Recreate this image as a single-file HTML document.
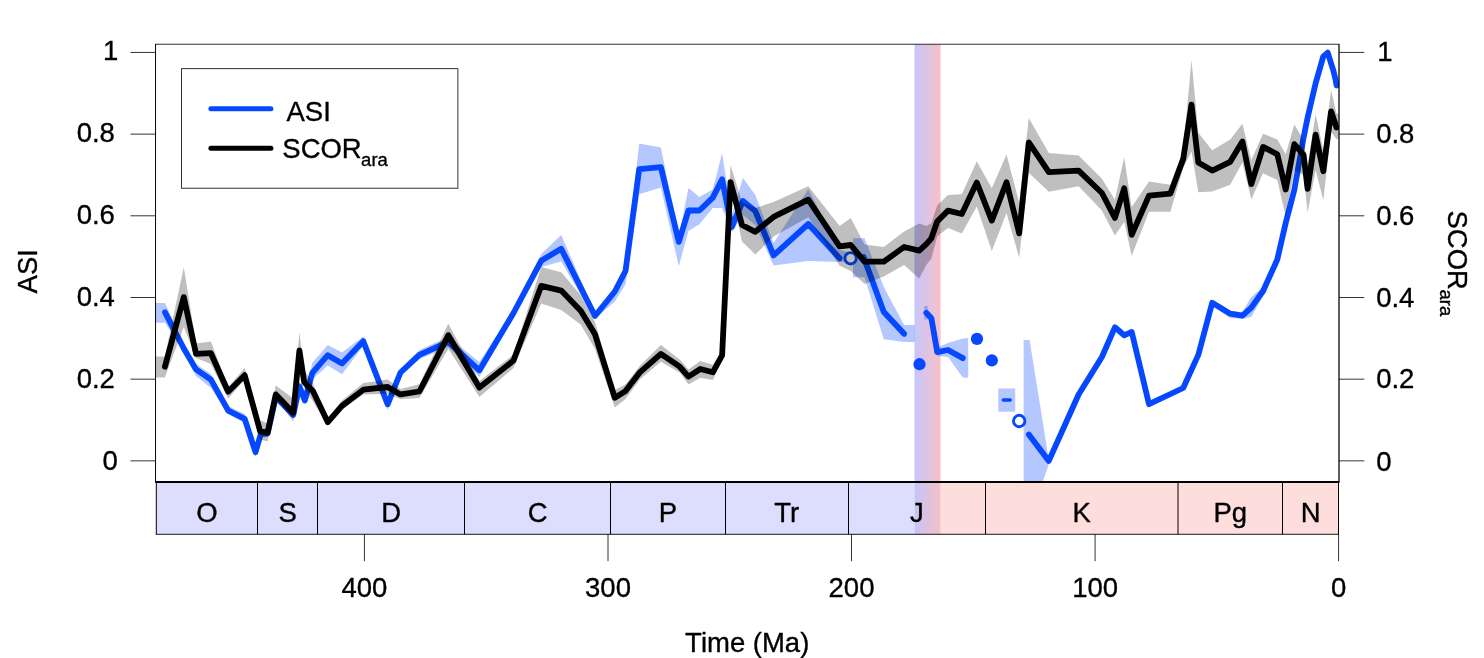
<!DOCTYPE html>
<html lang="en"><head><meta charset="utf-8"><title>ASI and SCORara through time</title>
<style>html,body{margin:0;padding:0;background:#fff}body{width:1484px;height:658px;overflow:hidden}svg{display:block}text{font-family:"Liberation Sans",sans-serif;font-size:27.5px;fill:#000;stroke:#000;stroke-width:0.35px;stroke-linejoin:round}.sub{font-size:18.5px}</style>
</head><body>
<svg width="1484" height="658" viewBox="0 0 1484 658">
<defs><clipPath id="pc"><rect x="155.55" y="44.2" width="1183.45" height="437.3"/></clipPath>
<linearGradient id="mj" x1="0" x2="1" y1="0" y2="0"><stop offset="0" stop-color="#c6c6fb"/><stop offset="1" stop-color="#f9c0ca"/></linearGradient>
<linearGradient id="mj2" x1="0" x2="1" y1="0" y2="0"><stop offset="0" stop-color="#c4c4f8"/><stop offset="1" stop-color="#f6c0c8"/></linearGradient>
</defs>
<rect width="1484" height="658" fill="#fff"/>
<rect x="914.5" y="44.2" width="26.1" height="437.3" fill="url(#mj)"/>
<g clip-path="url(#pc)">
<polygon points="156.0,303.1 165.0,303.1 183.8,344.0 196.0,364.0 210.9,374.0 228.2,406.0 244.7,414.0 255.5,447.0 260.8,431.0 267.6,431.0 275.8,394.0 293.3,412.0 299.4,382.0 304.8,396.0 312.3,362.7 327.8,345.0 342.0,352.5 363.3,336.5 387.6,400.0 400.5,369.0 419.4,350.0 448.3,337.0 479.4,362.0 513.5,309.0 541.2,254.0 561.2,235.0 595.0,313.0 614.8,288.0 625.5,266.0 639.2,143.5 660.9,147.6 678.8,236.0 688.5,188.1 699.4,197.0 712.8,189.5 722.1,153.0 731.7,215.0 742.9,178.0 755.3,195.0 773.6,243.0 808.3,189.0 839.6,250.0 848.5,252.0 853.0,252.0 853.0,262.0 848.5,262.0 839.6,262.0 808.3,261.0 773.6,265.6 755.3,225.0 742.9,215.0 731.7,232.5 722.1,208.0 712.8,208.0 699.4,224.3 688.5,231.1 678.8,266.3 660.9,187.5 639.2,194.2 625.5,284.5 614.8,301.5 595.0,319.0 561.2,261.5 541.2,267.0 513.5,317.0 479.4,377.0 448.3,347.0 419.4,359.0 400.5,376.0 387.6,410.0 363.3,346.0 342.0,374.2 327.8,365.4 312.3,379.6 304.8,404.0 299.4,390.0 293.3,418.0 275.8,400.0 267.6,436.0 260.8,437.0 255.5,457.0 244.7,423.0 228.2,414.0 210.9,388.0 196.0,376.0 183.8,352.0 165.0,322.8 156.0,322.8" fill="rgba(5,72,255,0.30)"/>
<polygon points="853.0,238.3 864.5,238.3 883.8,287.0 904.1,325.0 914.8,325.0 914.8,342.0 904.1,342.0 883.8,339.2 864.5,277.2 853.0,277.2" fill="rgba(5,72,255,0.30)"/>
<polygon points="924.2,306.0 927.6,306.0 927.6,319.6 924.2,319.6" fill="rgba(5,72,255,0.30)"/>
<polygon points="937.2,347.5 948.0,343.0 962.8,338.5 968.2,338.0 968.2,377.7 962.8,377.5 948.0,357.0 937.2,356.0" fill="rgba(5,72,255,0.30)"/>
<polygon points="998.3,388.4 1015.2,388.4 1015.2,411.8 998.3,411.8" fill="rgba(5,72,255,0.30)"/>
<polygon points="1023.6,340.1 1029.6,340.1 1049.2,462.0 1049.2,463.0 1029.6,520.0 1023.6,520.0" fill="rgba(5,72,255,0.30)"/>
<polygon points="1212.2,301.0 1230.2,311.0 1242.4,312.0 1251.3,297.0 1263.1,287.0 1277.4,257.0 1277.4,262.0 1263.1,296.0 1251.3,317.0 1242.4,319.0 1230.2,318.0 1212.2,305.0" fill="rgba(5,72,255,0.30)"/>
<polyline points="165.0,312.4 183.8,348.5 196.0,369.4 210.9,379.6 228.2,410.7 244.7,418.8 255.5,452.2 260.8,434.0 267.6,433.5 275.8,397.0 293.3,415.0 299.4,386.3 304.8,400.5 312.3,372.8 327.8,355.2 342.0,363.5 363.3,341.2 387.6,404.3 400.5,372.5 419.4,354.8 448.3,341.9 479.4,370.3 513.5,313.0 541.2,260.8 561.2,248.7 595.0,316.0 614.8,291.5 625.5,271.0 639.2,169.2 660.9,167.2 678.8,241.9 688.5,210.3 699.4,210.5 712.8,197.6 722.1,179.4 731.7,227.0 742.9,201.0 755.3,211.1 773.6,255.4 808.3,224.0 839.6,258.3" fill="none" stroke="#0548ff" stroke-width="5.8" stroke-linecap="round" stroke-linejoin="round"/>
<polyline points="863.6,257.0 883.8,312.0 904.1,333.8" fill="none" stroke="#0548ff" stroke-width="5.8" stroke-linecap="round" stroke-linejoin="round"/>
<polyline points="926.3,312.8 931.4,318.3 937.2,352.1 948.0,350.0 962.8,358.1" fill="none" stroke="#0548ff" stroke-width="5.8" stroke-linecap="round" stroke-linejoin="round"/>
<polyline points="1028.8,434.5 1048.8,460.9 1078.6,394.5 1101.9,357.0 1114.9,327.3 1124.2,335.3 1131.7,331.9 1149.0,404.2 1183.2,388.0 1198.3,354.9 1212.2,302.8 1230.2,313.7 1242.4,315.7 1251.3,307.6 1263.1,291.0 1277.3,259.5 1285.7,223.0 1294.3,190.0 1303.6,137.4 1307.6,117.7 1315.6,83.4 1323.3,56.4 1327.7,52.6 1331.1,63.5 1333.5,71.0 1335.5,79.5 1336.6,85.5" fill="none" stroke="#0548ff" stroke-width="5.8" stroke-linecap="round" stroke-linejoin="round"/>
<line x1="1003.3" y1="400.05" x2="1010.2" y2="400.05" stroke="#0548ff" stroke-width="3.5" stroke-linecap="round"/>
<circle cx="919.5" cy="364.2" r="6.1" fill="#0548ff"/>
<circle cx="977" cy="338.9" r="6.1" fill="#0548ff"/>
<circle cx="991.8" cy="360.4" r="6.1" fill="#0548ff"/>
<circle cx="850.6" cy="258.3" r="5.7" fill="#fff" stroke="#0548ff" stroke-width="2.9"/>
<circle cx="1019.2" cy="421" r="5.7" fill="#fff" stroke="#0548ff" stroke-width="2.9"/>
<polygon points="156.0,356.6 164.9,356.6 183.8,266.9 196.0,343.5 210.9,341.4 228.2,387.0 244.7,368.0 260.2,420.6 267.6,423.0 275.8,385.6 293.3,398.5 299.4,332.5 304.2,370.0 312.9,383.6 327.8,418.0 342.0,400.6 363.3,383.0 387.6,379.6 400.5,389.0 419.4,384.3 448.3,323.7 479.4,381.0 513.5,354.5 541.2,267.0 561.2,272.3 580.9,295.3 595.0,322.0 614.8,390.0 625.5,384.6 640.1,365.6 660.9,345.0 679.7,359.5 688.5,369.4 700.3,361.0 712.8,364.8 722.1,350.0 730.5,165.0 742.0,202.0 755.3,208.0 773.6,202.0 808.3,186.2 839.6,226.0 850.8,218.0 864.5,244.4 883.8,247.0 904.1,231.5 919.2,223.4 926.3,226.0 931.4,223.2 937.2,205.5 948.0,195.0 961.8,194.3 976.8,161.2 991.8,188.3 1006.5,154.5 1019.2,202.5 1028.8,118.0 1048.8,153.1 1078.6,155.4 1101.9,178.8 1114.9,199.8 1124.2,157.2 1131.7,207.0 1149.0,181.5 1170.4,184.8 1183.2,150.0 1191.5,60.1 1198.3,132.7 1212.2,150.3 1230.2,139.5 1242.4,123.7 1251.3,160.0 1263.1,133.8 1277.3,139.5 1285.7,154.3 1294.3,124.4 1303.6,140.0 1307.6,165.0 1315.6,114.2 1323.3,150.0 1331.1,89.9 1336.5,113.7 1338.6,113.7 1338.6,139.0 1336.5,139.0 1331.1,132.0 1323.3,200.3 1315.6,170.0 1307.6,212.5 1303.6,175.0 1294.3,170.6 1285.7,216.5 1277.3,180.0 1263.1,173.3 1251.3,199.6 1242.4,162.5 1230.2,184.8 1212.2,191.5 1198.3,192.2 1191.5,151.6 1183.2,168.0 1170.4,211.8 1149.0,211.8 1131.7,255.7 1124.2,222.0 1114.9,235.4 1101.9,210.4 1078.6,186.3 1048.8,191.7 1028.8,172.7 1019.2,257.8 1006.5,213.1 991.8,251.0 976.8,206.4 961.8,233.6 948.0,228.0 937.2,236.5 931.4,258.4 926.3,265.0 919.2,278.5 904.1,265.0 883.8,276.5 864.5,284.0 850.8,271.0 839.6,265.7 808.3,217.3 773.6,236.5 755.3,254.4 742.0,241.5 730.5,190.0 722.1,360.0 712.8,380.0 700.3,377.8 688.5,384.6 679.7,372.4 660.9,361.8 640.1,379.3 625.5,399.0 614.8,407.4 595.0,349.0 580.9,324.8 561.2,310.0 541.2,303.4 513.5,368.0 479.4,397.0 448.3,348.7 419.4,397.9 400.5,399.2 387.6,393.8 363.3,394.5 342.0,409.4 327.8,425.5 312.9,401.2 304.2,388.0 299.4,358.0 293.3,421.5 275.8,398.5 267.6,441.5 260.2,439.5 244.7,379.6 228.2,398.5 210.9,364.0 196.0,358.0 183.8,327.0 164.9,377.5 156.0,377.5" fill="rgba(0,0,0,0.25)"/>
<polyline points="164.9,366.7 183.8,297.1 196.0,353.9 210.9,353.2 228.2,391.7 244.7,375.2 260.2,431.4 267.6,432.7 275.8,394.4 293.3,412.7 299.4,350.5 304.2,382.3 312.9,391.1 327.8,422.2 342.0,405.9 363.3,389.7 387.6,387.0 400.5,394.4 419.4,391.5 448.3,335.2 479.4,387.6 513.5,360.6 541.2,285.9 561.2,290.6 580.9,310.9 595.0,334.3 614.8,397.8 625.5,391.1 640.1,372.1 660.9,353.9 679.7,366.7 688.5,376.6 700.3,369.0 712.8,372.3 722.1,355.4 730.5,182.1 742.0,225.0 755.3,231.8 773.6,216.9 808.3,199.7 839.6,246.4 850.8,245.0 864.5,261.6 883.8,261.6 904.1,247.0 919.2,250.6 926.3,244.2 931.4,238.3 937.2,221.5 948.0,210.6 961.8,214.0 976.8,182.5 991.8,220.6 1006.5,182.2 1019.2,233.4 1028.8,142.3 1048.8,172.1 1078.6,170.7 1101.9,193.0 1114.9,217.9 1124.2,188.3 1131.7,234.8 1149.0,195.7 1170.4,193.6 1183.2,159.1 1191.5,104.6 1198.3,162.5 1212.2,170.6 1230.2,161.8 1242.4,141.5 1251.3,184.1 1263.1,146.9 1277.3,154.3 1285.7,189.5 1294.3,144.2 1303.6,155.0 1307.6,188.8 1315.6,134.7 1323.3,171.2 1331.1,111.5 1336.5,127.5" fill="none" stroke="#000" stroke-width="5.8" stroke-linecap="round" stroke-linejoin="round"/>
</g>
<rect x="156.3" y="482" width="758.2" height="52.2" fill="#ddddfd"/>
<rect x="940.6" y="482" width="397.9" height="52.2" fill="#fedddd"/>
<rect x="914.5" y="482" width="26.1" height="52.2" fill="url(#mj2)"/>
<g stroke="#000" stroke-width="1" fill="none">
<line x1="257.5" y1="482" x2="257.5" y2="534.2"/>
<line x1="317.5" y1="482" x2="317.5" y2="534.2"/>
<line x1="464.5" y1="482" x2="464.5" y2="534.2"/>
<line x1="610.5" y1="482" x2="610.5" y2="534.2"/>
<line x1="725.5" y1="482" x2="725.5" y2="534.2"/>
<line x1="848.5" y1="482" x2="848.5" y2="534.2"/>
<line x1="985.5" y1="482" x2="985.5" y2="534.2"/>
<line x1="1178.0" y1="482" x2="1178.0" y2="534.2"/>
<line x1="1282.5" y1="482" x2="1282.5" y2="534.2"/>
<line x1="156.3" y1="482" x2="156.3" y2="534.2"/>
<line x1="1338.5" y1="482" x2="1338.5" y2="534.2"/>
<line x1="155.8" y1="534.3" x2="1339" y2="534.3" stroke-width="0.9"/>
<line x1="155.15" y1="482" x2="1339.4" y2="482" stroke-width="1.9"/>
</g>
<g stroke="#000" stroke-width="0.8" fill="none">
<rect x="155.55" y="44.2" width="1183.45" height="437.3"/>
<line x1="155.55" y1="44.2" x2="155.55" y2="481.5"/>
<line x1="1339" y1="44.2" x2="1339" y2="481.5"/>
<rect x="181.5" y="68.7" width="276.4" height="119.5" fill="#fff"/>
<line x1="130.5" y1="460.85" x2="155.55" y2="460.85"/>
<line x1="1339" y1="460.85" x2="1364.3" y2="460.85"/>
<line x1="130.5" y1="379.17" x2="155.55" y2="379.17"/>
<line x1="1339" y1="379.17" x2="1364.3" y2="379.17"/>
<line x1="130.5" y1="297.49" x2="155.55" y2="297.49"/>
<line x1="1339" y1="297.49" x2="1364.3" y2="297.49"/>
<line x1="130.5" y1="215.81" x2="155.55" y2="215.81"/>
<line x1="1339" y1="215.81" x2="1364.3" y2="215.81"/>
<line x1="130.5" y1="134.13" x2="155.55" y2="134.13"/>
<line x1="1339" y1="134.13" x2="1364.3" y2="134.13"/>
<line x1="130.5" y1="52.45" x2="155.55" y2="52.45"/>
<line x1="1339" y1="52.45" x2="1364.3" y2="52.45"/>
<line x1="1338.6" y1="534.2" x2="1338.6" y2="561.2"/>
<line x1="1095.1" y1="534.2" x2="1095.1" y2="561.2"/>
<line x1="851.5" y1="534.2" x2="851.5" y2="561.2"/>
<line x1="608.0" y1="534.2" x2="608.0" y2="561.2"/>
<line x1="364.4" y1="534.2" x2="364.4" y2="561.2"/>
</g>
<line x1="210.9" y1="108.7" x2="270.9" y2="108.7" stroke="#0548ff" stroke-width="5" stroke-linecap="round"/>
<line x1="210.9" y1="148.3" x2="270.9" y2="148.3" stroke="#000" stroke-width="5" stroke-linecap="round"/>
<text transform="translate(286.5,121) scale(1,1.035)">ASI</text>
<text transform="translate(282.3,157.8) scale(1,1.035)">SCOR<tspan class="sub" dx="-0.6" dy="7.8">ara</tspan></text>
<text x="117.8" y="470" text-anchor="end">0</text>
<text x="1376.2" y="471">0</text>
<text x="114.9" y="388" text-anchor="end">0.2</text>
<text x="1376.2" y="388">0.2</text>
<text x="114.9" y="306" text-anchor="end">0.4</text>
<text x="1376.2" y="307">0.4</text>
<text x="114.9" y="224" text-anchor="end">0.6</text>
<text x="1376.2" y="225">0.6</text>
<text x="114.9" y="142" text-anchor="end">0.8</text>
<text x="1376.2" y="143">0.8</text>
<text x="118.2" y="60" text-anchor="end">1</text>
<text x="1377.2" y="61">1</text>
<text x="1338.6" y="596.8" text-anchor="middle">0</text>
<text x="1095.1" y="596.8" text-anchor="middle">100</text>
<text x="851.5" y="596.8" text-anchor="middle">200</text>
<text x="608.0" y="596.8" text-anchor="middle">300</text>
<text x="364.4" y="596.8" text-anchor="middle">400</text>
<text transform="translate(207.0,521.6) scale(1,1.035)" text-anchor="middle">O</text>
<text transform="translate(287.7,521.6) scale(1,1.035)" text-anchor="middle">S</text>
<text transform="translate(391.1,521.6) scale(1,1.035)" text-anchor="middle">D</text>
<text transform="translate(537.6,521.6) scale(1,1.035)" text-anchor="middle">C</text>
<text transform="translate(667.9,521.6) scale(1,1.035)" text-anchor="middle">P</text>
<text transform="translate(786.7,521.6) scale(1,1.035)" text-anchor="middle">Tr</text>
<text transform="translate(916.9,521.6) scale(1,1.035)" text-anchor="middle">J</text>
<text transform="translate(1081.7,521.6) scale(1,1.035)" text-anchor="middle">K</text>
<text transform="translate(1230.2,521.6) scale(1,1.035)" text-anchor="middle">Pg</text>
<text transform="translate(1310.6,521.6) scale(1,1.035)" text-anchor="middle">N</text>
<text transform="translate(747.2,652) scale(1,1.035)" text-anchor="middle">Time (Ma)</text>
<text transform="translate(37.2,271.3) rotate(-90) scale(1,1.035)" text-anchor="middle">ASI</text>
<text transform="translate(1448,210.5) rotate(90) scale(1,1.035)">SCOR<tspan class="sub" dx="-0.4" dy="8.1">ara</tspan></text>
</svg></body></html>
